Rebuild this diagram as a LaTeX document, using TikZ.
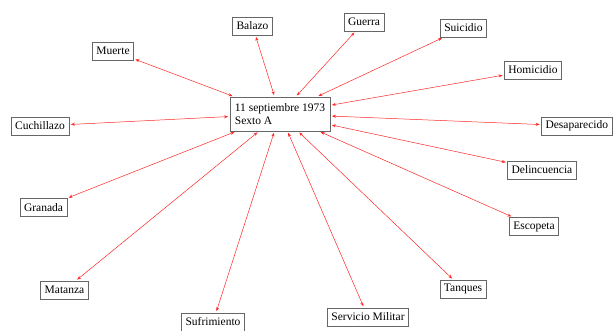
\documentclass[tikz,border=0pt]{standalone}
\usepackage{fontspec}
\setmainfont{Liberation Serif}
\usepackage{tikz}
\usetikzlibrary{arrows.meta,positioning}

\begin{document}
\begin{tikzpicture}[x=1pt, y=-1pt,
  topic/.style = {draw = black!60, line width = 0.8pt, fill = white, shape = rectangle, inner xsep = 4pt, minimum height = 18pt, font = \fontsize{11.5}{13.5}\selectfont},
  link/.style = {draw = red!85, line width = 0.5pt, {Stealth[length = 4pt, width = 3pt]}-{Stealth[length = 4pt, width = 3pt]}, shorten < = 1.5pt, shorten > = 1.5pt}]
\useasboundingbox (0,0) rectangle (613,331);
\node[topic, align = left, minimum width = 100pt, minimum height = 34pt] (0) at (280,114) {11 septiembre 1973\\Sexto A};
\node[topic] (1) at (252.5,26) {Balazo};
\node[topic] (2) at (113,51) {Muerte};
\node[topic] (3) at (40,126) {Cuchillazo};
\node[topic] (4) at (364,22) {Guerra};
\node[topic] (5) at (463.5,28) {Suicidio};
\node[topic] (6) at (533,70) {Homicidio};
\node[topic, anchor = east] (7) at (612.5,126) {Desaparecido};
\node[topic] (8) at (542,170) {Delincuencia};
\node[topic] (9) at (534,226.5) {Escopeta};
\node[topic] (10) at (463,289) {Tanques};
\node[topic] (11) at (368,317) {Servicio Militar};
\node[topic] (12) at (213,322) {Sufrimiento};
\node[topic] (13) at (64.5,290) {Matanza};
\node[topic] (14) at (43.5,207.5) {Granada};
\begin{scope}[every path/.style = {link}]
\draw (0) -- (1);
\draw (0) -- (2);
\draw (0) -- (3);
\draw (0) -- (4);
\draw (0) -- (5);
\draw (0) -- (6);
\draw (0) -- (7);
\draw (0) -- (8);
\draw (0) -- (9);
\draw (0) -- (10);
\draw (0) -- (11);
\draw (0) -- (12);
\draw (0) -- (13);
\draw (0) -- (14);
\end{scope}
\end{tikzpicture}
\end{document}
